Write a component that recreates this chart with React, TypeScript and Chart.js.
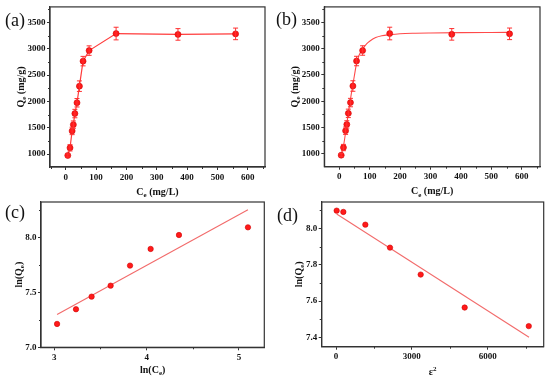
import React, { useEffect, useRef } from 'react';
import { Chart, registerables } from 'chart.js';
Chart.register(...registerables);

// ---- data ----
const ceA = [6.6, 14, 21, 25, 30, 37, 45, 57, 77, 166, 370, 560];
const qeA = [975, 1120, 1440, 1560, 1770, 1975, 2290, 2765, 2965, 3288, 3272, 3282];
const qeErr = [30, 60, 70, 70, 80, 80, 100, 90, 90, 120, 110, 110];
const fitCeB = [5, 10, 15, 20, 30, 40, 50, 57, 65, 77, 90, 100, 120, 140, 166, 200, 250, 300, 400, 500, 560];
const fitQeB = [960, 1050, 1180, 1370, 1780, 2150, 2490, 2720, 2870, 2990, 3090, 3140, 3210, 3245, 3265, 3283, 3293, 3298, 3304, 3308, 3310];
const lnCe = [3.03, 3.235, 3.404, 3.61, 3.82, 4.043, 4.35, 5.097];
const lnQeC = [7.213, 7.347, 7.462, 7.562, 7.745, 7.897, 8.024, 8.094];
const fitLnCe = [3.03, 5.097];
const fitLnQeC = [7.3, 8.255];
const eps2 = [26, 290, 1160, 2136, 3350, 5090, 7625];
const lnQeD = [8.097, 8.09, 8.02, 7.894, 7.746, 7.565, 7.463];
const fitEps2 = [26, 7636];
const fitLnQeD = [8.079, 7.402];
const ticksABx = [0, 100, 200, 300, 400, 500, 600];
const ticksABy = [1000, 1500, 2000, 2500, 3000, 3500];
const ticksCx = [3, 4, 5];
const ticksCy = [7.0, 7.5, 8.0];
const ticksDx = [0, 3000, 6000];
const ticksDy = [7.4, 7.6, 7.8, 8.0];

const FONT = "'Liberation Serif', 'Times New Roman', serif";
const AX = '#333';
const PT = '#ff1a1a';

type Seg = { t: string; sub?: boolean; sup?: boolean };

function drawRich(ctx: CanvasRenderingContext2D, segs: Seg[], x: number, y: number, rot: boolean) {
  const main = `bold 10px ${FONT}`;
  const small = `bold 7px ${FONT}`;
  let total = 0;
  const widths = segs.map((s) => {
    ctx.font = s.sub || s.sup ? small : main;
    const w = ctx.measureText(s.t).width;
    total += w;
    return w;
  });
  ctx.save();
  ctx.translate(x, y);
  if (rot) ctx.rotate(-Math.PI / 2);
  ctx.fillStyle = '#111';
  ctx.textBaseline = 'middle';
  ctx.textAlign = 'left';
  let cx = -total / 2;
  segs.forEach((s, i) => {
    ctx.font = s.sub || s.sup ? small : main;
    const dy = s.sub ? 3 : s.sup ? -4 : 0;
    ctx.fillText(s.t, cx, dy);
    cx += widths[i];
  });
  ctx.restore();
}

function minorVals(majors: number[], min: number, max: number) {
  const step = majors[1] - majors[0];
  const out: number[] = [];
  for (let k = -1; k < majors.length + 1; k++) {
    const v = majors[0] + (k + 0.5) * step;
    if (v > min && v < max) out.push(v);
  }
  return out;
}

type Panel = {
  left: number; top: number; w: number; h: number;
  area: { L: number; R: number; T: number; B: number };
  xMin: number; xMax: number; yMin: number; yMax: number;
  xTicks: number[]; yTicks: number[];
  xFmt: (v: number) => string; yFmt: (v: number) => string;
  xTitle: Seg[]; yTitle: Seg[]; xTitleDy: number; yTitleDx: number;
  datasets: any[];
  errors?: { ds: number; err: number[] };
};

function makeConfig(p: Panel) {
  const plugin = {
    id: 'deco',
    afterDatasetsDraw(chart: any) {
      if (!p.errors) return;
      const ctx = chart.ctx as CanvasRenderingContext2D;
      const xs = chart.scales.x, ys = chart.scales.y;
      const data = chart.data.datasets[p.errors.ds].data;
      ctx.save();
      ctx.strokeStyle = '#ff3030';
      ctx.lineWidth = 1;
      data.forEach((d: any, i: number) => {
        const e = p.errors!.err[i];
        const px = xs.getPixelForValue(d.x);
        const t = ys.getPixelForValue(d.y + e);
        const b = ys.getPixelForValue(d.y - e);
        ctx.beginPath();
        ctx.moveTo(px, t); ctx.lineTo(px, b);
        ctx.moveTo(px - 2.5, t); ctx.lineTo(px + 2.5, t);
        ctx.moveTo(px - 2.5, b); ctx.lineTo(px + 2.5, b);
        ctx.stroke();
      });
      ctx.restore();
    },
    afterDraw(chart: any) {
      const ctx = chart.ctx as CanvasRenderingContext2D;
      const a = chart.chartArea;
      const xs = chart.scales.x, ys = chart.scales.y;
      ctx.save();
      ctx.strokeStyle = AX;
      ctx.lineWidth = 1.2;
      ctx.strokeRect(a.left, a.top, a.right - a.left, a.bottom - a.top);
      ctx.lineWidth = 1;
      ctx.beginPath();
      minorVals(p.xTicks, p.xMin, p.xMax).forEach((v) => {
        const px = Math.round(xs.getPixelForValue(v)) + 0.5;
        ctx.moveTo(px, a.bottom); ctx.lineTo(px, a.bottom + 2);
      });
      minorVals(p.yTicks, p.yMin, p.yMax).forEach((v) => {
        const py = Math.round(ys.getPixelForValue(v)) + 0.5;
        ctx.moveTo(a.left, py); ctx.lineTo(a.left - 2, py);
      });
      ctx.stroke();
      ctx.restore();
      drawRich(ctx, p.xTitle, (a.left + a.right) / 2, a.bottom + p.xTitleDy, false);
      drawRich(ctx, p.yTitle, a.left - p.yTitleDx, (a.top + a.bottom) / 2, true);
    },
  };
  const tickFont = { family: FONT, size: 9, weight: 'bold' as const };
  const grid = { display: true, drawOnChartArea: false, drawTicks: true, tickLength: 3, color: AX, lineWidth: 1 };
  const border = { display: true, color: AX, width: 1.2 };
  return {
    type: 'scatter' as const,
    data: { datasets: p.datasets },
    options: {
      animation: false as const,
      responsive: false,
      devicePixelRatio: 1,
      layout: { padding: { top: p.area.T, right: p.w - p.area.R, left: 0, bottom: 0 } },
      plugins: { legend: { display: false }, tooltip: { enabled: false } },
      scales: {
        x: {
          type: 'linear' as const, min: p.xMin, max: p.xMax,
          afterFit: (s: any) => { s.height = p.h - p.area.B; },
          afterBuildTicks: (s: any) => { s.ticks = p.xTicks.map((v) => ({ value: v })); },
          ticks: { font: tickFont, color: '#111', padding: 2, maxRotation: 0, autoSkip: false, callback: (v: any) => p.xFmt(Number(v)) },
          grid, border,
        },
        y: {
          type: 'linear' as const, min: p.yMin, max: p.yMax,
          afterFit: (s: any) => { s.width = p.area.L; },
          afterBuildTicks: (s: any) => { s.ticks = p.yTicks.map((v) => ({ value: v })); },
          ticks: { font: tickFont, color: '#111', padding: 1.5, autoSkip: false, callback: (v: any) => p.yFmt(Number(v)) },
          grid, border,
        },
      },
    },
    plugins: [plugin],
  };
}

const pts = (xs: number[], ys: number[]) => xs.map((x, i) => ({ x, y: ys[i] }));

const pointDs = (xs: number[], ys: number[], r: number, line: boolean) => ({
  data: pts(xs, ys),
  showLine: line,
  borderColor: '#ff3b3b',
  borderWidth: 1.2,
  pointRadius: r,
  pointBackgroundColor: PT,
  pointBorderColor: '#d00000',
  pointBorderWidth: 0.6,
});

const fitDs = (xs: number[], ys: number[], color: string, smooth: boolean) => ({
  data: pts(xs, ys),
  showLine: true,
  borderColor: color,
  borderWidth: 1.1,
  pointRadius: 0,
  tension: smooth ? 0.4 : 0,
  cubicInterpolationMode: smooth ? ('monotone' as const) : ('default' as const),
});

const int = (v: number) => String(Math.round(v));
const one = (v: number) => v.toFixed(1);
const ceT: Seg[] = [{ t: 'C' }, { t: 'e', sub: true }, { t: ' (mg/L)' }];
const qeT: Seg[] = [{ t: 'Q' }, { t: 'e', sub: true }, { t: ' (mg/g)' }];
const lnCeT: Seg[] = [{ t: 'ln(C' }, { t: 'e', sub: true }, { t: ')' }];
const lnQeT: Seg[] = [{ t: 'ln(Q' }, { t: 'e', sub: true }, { t: ')' }];
const epsT: Seg[] = [{ t: 'ε' }, { t: '2', sup: true }];

const panels: Panel[] = [
  {
    left: 0, top: 0, w: 275, h: 200, area: { L: 50, R: 265, T: 5, B: 167 },
    xMin: -52, xMax: 657, yMin: 756, yMax: 3794, xTicks: ticksABx, yTicks: ticksABy,
    xFmt: int, yFmt: int, xTitle: ceT, yTitle: qeT, xTitleDy: 25, yTitleDx: 29,
    datasets: [pointDs(ceA, qeA, 3, true)], errors: { ds: 0, err: qeErr },
  },
  {
    left: 275, top: 0, w: 275, h: 200, area: { L: 49.3, R: 265, T: 5, B: 166.7 },
    xMin: -49, xMax: 660, yMin: 756, yMax: 3794, xTicks: ticksABx, yTicks: ticksABy,
    xFmt: int, yFmt: int, xTitle: ceT, yTitle: qeT, xTitleDy: 25, yTitleDx: 29,
    datasets: [pointDs(ceA, qeA, 3, false), fitDs(fitCeB, fitQeB, '#ff4a4a', true)], errors: { ds: 0, err: qeErr },
  },
  {
    left: 0, top: 190, w: 275, h: 191, area: { L: 41, R: 264.3, T: 12, B: 157.3 },
    xMin: 2.856, xMax: 5.274, yMin: 7.0, yMax: 8.325, xTicks: ticksCx, yTicks: ticksCy,
    xFmt: (v) => String(v), yFmt: one, xTitle: lnCeT, yTitle: lnQeT, xTitleDy: 22.7, yTitleDx: 21.7,
    datasets: [pointDs(lnCe, lnQeC, 2.7, false), fitDs(fitLnCe, fitLnQeC, '#f26b6b', false)],
  },
  {
    left: 275, top: 190, w: 275, h: 191, area: { L: 46.7, R: 268.7, T: 12, B: 156.7 },
    xMin: -566, xMax: 8216, yMin: 7.35, yMax: 8.1445, xTicks: ticksDx, yTicks: ticksDy,
    xFmt: int, yFmt: one, xTitle: epsT, yTitle: lnQeT, xTitleDy: 26, yTitleDx: 22.7,
    datasets: [pointDs(eps2, lnQeD, 2.7, false), fitDs(fitEps2, fitLnQeD, '#f26b6b', false)],
  },
];

const labels = [
  { t: '(a)', left: 5, top: 11 },
  { t: '(b)', left: 276, top: 10 },
  { t: '(c)', left: 5, top: 203 },
  { t: '(d)', left: 277, top: 206 },
];

function PanelChart({ p }: { p: Panel }) {
  const ref = useRef<HTMLCanvasElement | null>(null);
  useEffect(() => {
    if (!ref.current) return;
    const chart = new Chart(ref.current, makeConfig(p) as any);
    return () => chart.destroy();
  }, [p]);
  return (
    <canvas
      ref={ref}
      width={p.w}
      height={p.h}
      style={{ position: 'absolute', left: p.left, top: p.top, width: p.w, height: p.h }}
    />
  );
}

export default function App() {
  return (
    <div style={{ position: 'absolute', left: 0, top: 0, width: 550, height: 381, background: '#fff', overflow: 'hidden' }}>
      {panels.map((p, i) => (
        <PanelChart key={i} p={p} />
      ))}
      {labels.map((l) => (
        <div
          key={l.t}
          style={{ position: 'absolute', left: l.left, top: l.top, fontFamily: FONT, fontSize: 18, lineHeight: '18px', color: '#111' }}
        >
          {l.t}
        </div>
      ))}
    </div>
  );
}
